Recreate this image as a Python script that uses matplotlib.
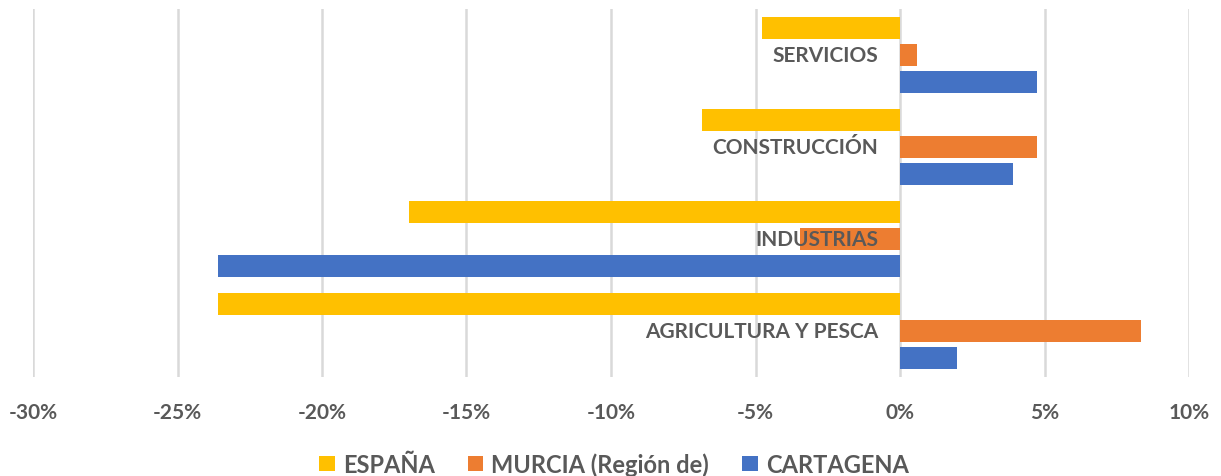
import matplotlib
matplotlib.use("Agg")
import matplotlib.pyplot as plt
from matplotlib.ticker import FuncFormatter
from matplotlib.patches import Patch
import matplotlib.transforms as mtransforms

categories = ["AGRICULTURA Y PESCA", "INDUSTRIAS", "CONSTRUCCIÓN", "SERVICIOS"]
series_names = ["ESPAÑA", "MURCIA (Región de)", "CARTAGENA"]
espana = [-23.6, -17.0, -6.85, -4.78]
murcia = [8.34, -3.46, 4.74, 0.59]
cartagena = [1.97, -23.6, 3.91, 4.74]
xticks = [-30, -25, -20, -15, -10, -5, 0, 5, 10]

colors = ["#FFC000", "#ED7D31", "#4472C4"]
text_color = "#595959"
font = "Lato"

fig = plt.figure(figsize=(12.21, 4.77), dpi=100)
ax = fig.add_axes([33/1221, 1 - 378/477, (1189 - 33)/1221, (378 - 10)/477])

offsets = [0.295, 0.0, -0.295]
height = 0.24
for vals, off, c in zip([espana, murcia, cartagena], offsets, colors):
    ax.barh([i + off for i in range(len(categories))], vals, height=height,
            color=c, zorder=2)

ax.set_xlim(-30, 10)
ax.set_ylim(-0.5, 3.5)
ax.set_xticks(xticks)
ax.xaxis.set_major_formatter(FuncFormatter(lambda v, p: f"{v:.0f}%"))
ax.grid(axis="x", color="#d9d9d9", linewidth=1.8, zorder=0)
ax.set_axisbelow(True)
ax.set_yticks([])
for s in ax.spines.values():
    s.set_visible(False)
ax.tick_params(axis="x", length=0, pad=18, labelsize=15, labelcolor=text_color)
for lbl in ax.get_xticklabels():
    lbl.set_fontfamily(font)
    lbl.set_fontweight("bold")

trans = ax.transData + mtransforms.ScaledTranslation(-22/100, 0, fig.dpi_scale_trans)
for i, cat in enumerate(categories):
    ax.text(0, i, cat, transform=trans, ha="right", va="center",
            fontsize=15, fontweight="bold", color=text_color,
            fontfamily=font, zorder=5)

handles = [Patch(facecolor=c, label=n) for c, n in zip(colors, series_names)]
leg = fig.legend(handles=handles, loc="center", bbox_to_anchor=(614/1221, 1 - 465/477),
                 ncol=3, frameon=False, handlelength=0.65, handleheight=0.65,
                 handletextpad=0.35, columnspacing=1.4,
                 prop={"family": font, "weight": "bold", "size": 17})
for t in leg.get_texts():
    t.set_color(text_color)

fig.savefig("out.png", dpi=100)
